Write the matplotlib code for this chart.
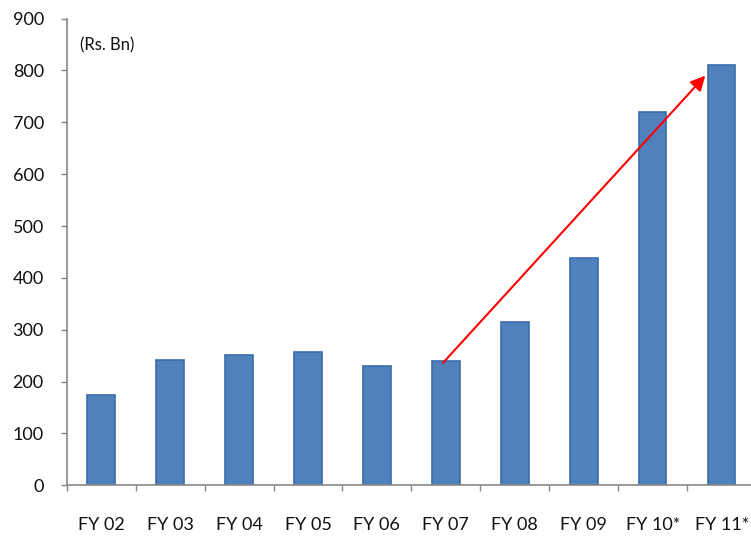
import numpy as np
import matplotlib.pyplot as plt

years = ["FY 02", "FY 03", "FY 04", "FY 05", "FY 06", "FY 07", "FY 08", "FY 09", "FY 10*", "FY 11*"]
values = [174, 241, 252, 258, 230, 239, 314, 438, 719, 810]
y_ticks = [0, 100, 200, 300, 400, 500, 600, 700, 800, 900]
unit_label = "(Rs. Bn)"
# growth arrow from FY 07 up to FY 11*
arrow_from = (4.93, 232)
arrow_to = (8.79, 794)

plt.rcParams['font.family'] = ['Lato', 'DejaVu Sans']

fig = plt.figure(figsize=(7.51, 5.37), dpi=100)
ax = fig.add_axes([0.0888, 0.0963, 0.918, 0.869])

x = np.arange(len(years))
ax.bar(x, values, width=0.4, color='#4F81BD', edgecolor='#3B6CAA', linewidth=1.2, zorder=2)

ax.set_xlim(-0.5, len(years) - 0.5)
ax.set_ylim(0, 900)
ax.set_yticks(y_ticks)
ax.set_xticks(x)
ax.set_xticklabels(years)
ax.set_xticks(np.arange(len(years) + 1) - 0.5, minor=True)

ax.tick_params(axis='y', length=4.5, width=1, color='#888888', pad=12, labelsize=13, labelcolor='#111111')
ax.tick_params(axis='x', which='major', length=0, pad=23, labelsize=13, labelcolor='#111111')
ax.tick_params(axis='x', which='minor', length=4.5, width=1, color='#888888')

for side in ['top', 'right']:
    ax.spines[side].set_visible(False)
for side in ['left', 'bottom']:
    ax.spines[side].set_color('#888888')
    ax.spines[side].set_linewidth(1.2)

ax.text(0.019, 0.943, unit_label, transform=ax.transAxes, fontsize=12, color='#111111', va='center')

ax.annotate('', xy=arrow_to, xytext=arrow_from,
            arrowprops=dict(arrowstyle='-|>', color='#FF0000', lw=1.5, mutation_scale=22), zorder=3)

fig.savefig('out.png', dpi=100)
